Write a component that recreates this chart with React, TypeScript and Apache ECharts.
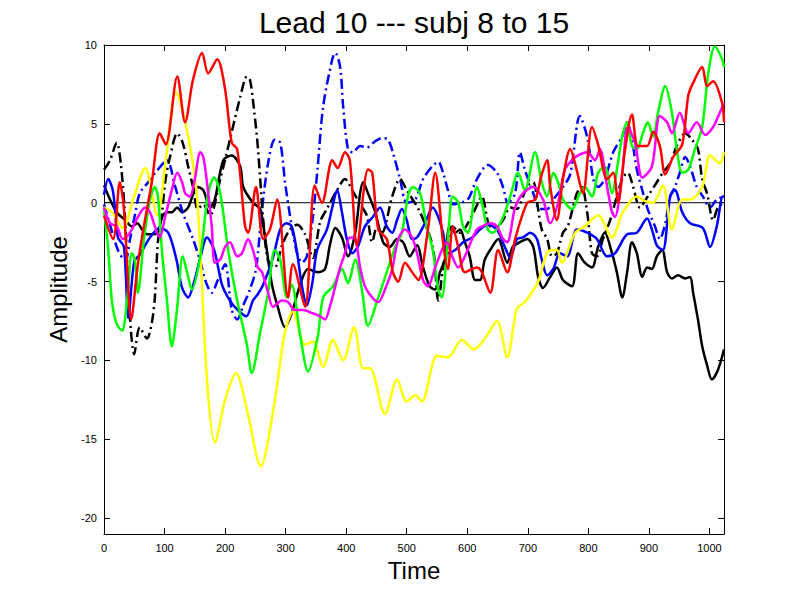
import React, { useEffect, useRef } from "react";
import * as echarts from "echarts";

const TITLE = "Lead 10 --- subj 8 to 15";
const X_NAME = "Time";
const Y_NAME = "Amplitude";
const X_TICKS = [0, 100, 200, 300, 400, 500, 600, 700, 800, 900, 1000];
const Y_TICKS = [-20, -15, -10, -5, 0, 5, 10];
const X_RANGE = [0, 1024];
const Y_RANGE = [-21, 10];
const ZERO_LINE: [number, number][] = [[0, 0], [1024, 0]];

const YELLOW: [number, number][] = [
  [0, -0.3], [13, -0.6], [31, -1.6], [48, 0.2], [68, 2.2], [88, -0.8], [102, 2.7], [119, 7.0], [139, 4.2], [154, 0.2],
  [170, -11.2], [183, -15.2], [200, -12.5], [218, -10.8], [236, -13.1], [259, -16.7], [279, -13.3], [299, -8.2], [312, -6.9],
  [332, -9.0], [345, -8.8], [362, -10.4], [378, -8.7], [395, -10.0], [413, -7.9], [428, -10.5], [439, -10.5], [464, -13.4],
  [484, -11.2], [500, -12.6], [514, -12.2], [525, -12.6], [550, -9.7], [568, -9.8], [591, -8.7], [611, -9.3], [631, -8.5],
  [649, -7.5], [666, -9.8], [682, -6.7], [695, -6.3], [717, -5.0], [733, -3.1], [748, -3.0], [756, -3.8], [778, -1.9],
  [794, -1.5], [816, -0.8], [839, -2.2], [857, -0.6], [880, 0.4], [894, 0.1], [907, 0.0], [923, 1.1], [938, -1.7],
  [955, 0.2], [968, 0.2], [988, 1.0], [1001, 3.0], [1017, 2.5], [1024, 3.2]
];

const RED: [number, number][] = [
  [0, -0.8], [15, -2.3], [26, 1.3], [33, -0.4], [45, -7.4], [55, -4.2], [64, -1.9], [79, 1.3], [92, 4.4], [102, 3.7],
  [121, 8.0], [134, 5.1], [147, 7.8], [162, 9.5], [172, 8.2], [187, 9.1], [200, 7.2], [211, 3.8], [220, 3.4], [233, -1.5],
  [238, -1.9], [251, 1.0], [263, -2.3], [274, -1.7], [286, 0.2], [304, -6.0], [312, -3.9], [332, -6.6], [348, 1.1],
  [360, 0.0], [377, 2.7], [386, 2.2], [398, 3.2], [406, 2.7], [418, -2.7], [436, 2.1], [443, 1.9], [453, -1.7],
  [467, -2.3], [477, -4.4], [486, -5.0], [497, -3.8], [509, -4.4], [519, -4.9], [535, -1.7], [547, 1.9], [560, -2.5],
  [568, -4.2], [576, -1.5], [585, -2.8], [596, -4.4], [616, -4.1], [624, -4.4], [638, -5.7], [651, -3.0], [666, -4.4],
  [679, -2.3], [699, 0.0], [712, 0.2], [723, 1.8], [732, 2.7], [737, 1.0], [748, -1.1], [758, 1.5], [770, 3.4],
  [778, 2.5], [791, 0.6], [806, 4.8], [816, 3.7], [831, 1.5], [841, 1.9], [849, 0.0], [860, 3.2], [872, 5.6], [882, 3.6],
  [897, 3.6], [907, 4.5], [918, 3.6], [927, 1.8], [940, 2.9], [955, 3.7], [965, 6.8], [973, 7.6], [988, 8.6], [996, 7.4],
  [1006, 7.7], [1021, 6.3], [1024, 5.1]
];

const GREEN: [number, number][] = [
  [0, -0.4], [7, -3.0], [13, -6.2], [21, -7.7], [30, -8.1], [38, -6.2], [46, -3.2], [51, -3.6], [56, -5.7], [66, -2.3],
  [76, 0.2], [84, 1.0], [89, 0.4], [96, -3.2], [104, -6.2], [112, -9.1], [121, -6.6], [130, -3.4], [139, -4.7], [145, -5.5],
  [159, -3.4], [172, 0.6], [182, 1.6], [192, 0.6], [205, -3.0], [220, -6.2], [236, -9.0], [244, -10.8], [258, -8.2],
  [271, -5.7], [282, -3.0], [291, -3.6], [302, -6.0], [310, -5.2], [324, -8.4], [337, -10.7], [353, -8.5], [362, -6.0],
  [378, -5.3], [393, -4.2], [403, -5.1], [415, -3.6], [426, -5.5], [436, -7.8], [453, -6.0], [467, -4.4], [481, -2.8],
  [492, -1.9], [502, 0.4], [510, 1.0], [522, 0.6], [533, -1.5], [543, -3.0], [552, -5.5], [558, -6.0], [568, -2.3],
  [576, 0.4], [585, 0.0], [593, -1.5], [601, -1.9], [616, 1.0], [624, 0.0], [634, -1.7], [642, -1.9], [657, -1.1],
  [671, 0.4], [684, 1.9], [695, 0.8], [712, 3.2], [723, 1.3], [732, 0.4], [742, 1.9], [750, 1.3], [758, 0.2], [773, -0.4],
  [786, 0.6], [794, 1.0], [806, 0.4], [816, 1.9], [827, 2.3], [839, 0.6], [847, 2.1], [856, 4.2], [864, 5.1], [872, 3.6],
  [880, 3.4], [890, 4.4], [898, 5.1], [907, 4.2], [915, 5.7], [927, 7.4], [938, 5.7], [946, 3.4], [955, 1.9], [965, 2.1],
  [976, 3.4], [988, 4.8], [998, 8.2], [1009, 9.9], [1021, 9.1], [1024, 8.6]
];

const BLUE: [number, number][] = [
  [0, 0.5], [7, 1.5], [15, 0.7], [23, -2.2], [33, -2.8], [40, -7.3], [50, -3.7], [59, -3.3], [76, -2.2], [92, -1.6],
  [106, -1.9], [119, -3.5], [129, -5.4], [139, -6.0], [149, -5.0], [159, -3.5], [170, -2.2], [182, -3.0], [195, -5.2],
  [208, -6.2], [221, -6.8], [235, -7.2], [246, -6.2], [254, -5.8], [264, -5.1], [279, -3.5], [291, -1.7], [301, -1.3],
  [310, -1.5], [319, -3.2], [327, -5.3], [335, -6.5], [344, -5.1], [352, -3.0], [368, -1.7], [377, -0.3], [385, 0.8],
  [393, -0.6], [401, -2.3], [410, -3.2], [419, -2.8], [431, -1.5], [444, -0.9], [456, -0.3], [467, -1.5], [476, -1.9],
  [484, -1.1], [492, -0.4], [500, -1.1], [509, -2.3], [517, -2.2], [530, -1.3], [543, -0.3], [552, -0.9], [560, -1.9],
  [568, -3.2], [580, -3.0], [593, -2.5], [608, -2.2], [621, -1.7], [634, -1.4], [649, -1.7], [662, -2.8], [671, -3.5],
  [682, -2.3], [692, -2.2], [704, -1.9], [715, -2.3], [723, -3.6], [732, -4.6], [742, -4.2], [753, -3.2], [765, -3.4],
  [781, -1.7], [798, -1.9], [814, -2.3], [831, -3.4], [844, -3.2], [864, -2.0], [880, -1.9], [897, -1.0], [905, -1.7],
  [913, -2.7], [923, -3.0], [935, 0.4], [943, 0.8], [955, -0.6], [968, -1.3], [989, -1.6], [1001, -2.8], [1012, -1.5],
  [1022, 0.4], [1024, 0.4]
];

const BLUE_DASHDOT: [number, number][] = [
  [0, -0.1], [10, -1.4], [23, -3.0], [35, -3.7], [43, -2.3], [51, -0.8], [59, 0.6], [73, 1.3], [89, 2.1], [104, 2.7],
  [117, 1.1], [130, -0.6], [147, -2.3], [159, -3.7], [168, -5.0], [178, -5.7], [188, -4.9], [200, -3.9], [211, -6.8],
  [220, -7.4], [230, -6.5], [241, -5.5], [251, -4.2], [261, -0.4], [271, 2.5], [282, 4.0], [291, 3.8], [299, 1.3],
  [310, -1.5], [319, -3.2], [327, -3.8], [335, -3.4], [345, -0.9], [353, 2.3], [362, 6.1], [377, 9.1], [382, 9.5],
  [390, 8.6], [395, 6.1], [403, 3.4], [411, 3.2], [423, 3.6], [434, 3.5], [448, 3.9], [459, 4.1], [469, 4.0], [477, 3.2],
  [489, 1.5], [500, 0.0], [514, 0.2], [527, 1.5], [542, 2.3], [552, 2.6], [560, 1.9], [568, 0.8], [576, -0.1], [588, 0.0],
  [601, 0.2], [616, 1.5], [634, 2.4], [649, 1.9], [659, 1.0], [667, 0.0], [679, 0.6], [687, 3.2], [695, 2.1], [709, 0.6],
  [720, -0.4], [732, -0.4], [742, 0.2], [758, 1.0], [770, 1.8], [786, 5.5], [799, 4.0], [808, 1.5], [816, 1.0], [827, 1.5],
  [841, 3.2], [856, 4.2], [864, 5.1], [872, 4.0], [880, 2.1], [889, 0.8], [898, -0.4], [910, -1.5], [918, -2.3],
  [927, -1.3], [935, 0.4], [943, 1.0], [951, 1.9], [960, 2.9], [968, 2.3], [979, 1.0], [989, 0.4], [1001, -0.3],
  [1012, 0.2], [1024, 0.4]
];

const BLACK: [number, number][] = [
  [0, 1.1], [10, 0.2], [21, -0.6], [35, -1.1], [46, -1.5], [55, -1.3], [63, -1.7], [71, -2.0], [81, -2.0], [89, -1.9],
  [96, -0.9], [104, -0.6], [112, -0.6], [121, -0.3], [129, -0.6], [139, -0.3], [154, 1.0], [164, 0.8], [175, -0.3],
  [183, 0.2], [197, 2.7], [211, 3.0], [225, 2.3], [230, 1.0], [246, 0.0], [258, -0.4], [266, -2.2], [277, -5.1],
  [287, -6.6], [299, -7.9], [310, -7.0], [324, -5.2], [337, -4.2], [353, -4.4], [365, -4.2], [373, -2.7], [382, -1.6],
  [393, -2.2], [403, -3.4], [415, -1.9], [423, 0.6], [428, 1.3], [436, 0.6], [448, -0.6], [461, -2.5], [472, -2.8],
  [484, -2.3], [494, -2.5], [505, -3.4], [517, -2.7], [527, -4.1], [538, -5.3], [547, -5.5], [555, -4.4], [563, -3.6],
  [571, -1.5], [580, -1.9], [588, -1.7], [596, -2.5], [604, -3.4], [613, -4.9], [621, -4.9], [629, -3.6], [641, -2.8],
  [651, -2.3], [666, -3.8], [675, -2.8], [687, -2.5], [699, -2.3], [709, -2.8], [717, -4.7], [725, -5.4], [737, -4.7],
  [748, -4.1], [758, -4.9], [773, -5.3], [783, -3.2], [794, -3.8], [806, -4.1], [816, -2.8], [827, -1.9], [839, -3.2],
  [847, -4.4], [856, -6.0], [864, -4.4], [872, -2.5], [880, -3.2], [889, -4.7], [897, -4.1], [905, -4.2], [913, -3.4],
  [922, -3.0], [930, -4.4], [938, -4.8], [948, -4.6], [960, -4.8], [968, -4.7], [973, -5.7], [981, -7.4], [988, -9.1],
  [996, -10.3], [1004, -11.2], [1014, -10.6], [1024, -9.3]
];

const BLACK_DASHDOT: [number, number][] = [
  [0, 2.1], [10, 2.7], [21, 3.8], [28, 2.4], [35, -1.1], [41, -6.2], [50, -9.6], [59, -7.9], [71, -8.6], [79, -7.6],
  [84, -6.0], [89, -2.5], [96, -0.6], [101, 1.3], [109, 2.9], [121, 4.4], [130, 3.8], [139, 2.3], [147, 1.0], [155, -0.4],
  [164, -0.1], [175, -0.8], [192, 1.5], [208, 4.0], [225, 6.7], [236, 8.0], [241, 7.8], [246, 6.5], [253, 4.0], [258, 1.5],
  [263, -1.1], [271, -3.7], [282, -4.1], [294, -2.7], [307, -1.7], [319, -1.4], [332, -2.0], [345, -3.5], [357, -1.2],
  [368, -0.4], [385, 0.8], [398, 1.5], [410, 0.8], [423, -0.1], [434, -0.8], [443, -2.5], [451, -1.5], [459, -1.9],
  [476, 0.4], [489, 1.5], [500, 0.8], [522, -0.6], [543, -2.8], [552, -6.2], [560, -4.1], [566, -2.8], [576, -1.5],
  [588, -1.9], [601, -1.3], [613, -0.4], [624, 0.4], [638, -1.5], [649, -1.5], [659, -1.1], [671, -0.3], [682, -0.4],
  [692, 0.4], [700, 1.1], [709, 1.3], [717, -0.4], [723, -1.7], [732, -2.3], [740, -3.4], [748, -3.2], [758, -1.9],
  [766, -1.5], [781, 0.6], [789, 1.0], [798, -0.6], [806, -3.2], [814, -3.4], [824, -2.3], [836, -1.1], [847, 0.4],
  [857, 1.6], [865, 1.9], [874, 1.0], [885, -0.3], [898, 0.4], [913, 1.3], [923, 1.9], [935, 2.5], [946, 3.6], [960, 4.4],
  [971, 4.0], [981, 3.4], [988, 1.5], [996, 0.6], [1006, -1.1], [1014, -0.3], [1024, 0.0]
];

const MAGENTA: [number, number][] = [
  [0, -0.3], [10, -1.3], [21, -1.5], [31, -2.3], [43, -1.9], [56, -0.9], [68, -0.3], [76, -0.6], [84, -1.5], [92, -2.2],
  [101, -0.9], [112, 0.8], [121, 1.9], [129, 1.3], [134, 0.6], [142, 0.4], [150, 1.5], [159, 3.2], [164, 2.9], [170, 1.3],
  [178, -1.5], [183, -3.8], [192, -3.6], [200, -2.8], [208, -2.5], [220, -3.4], [228, -3.2], [238, -2.3], [246, -3.0],
  [254, -4.1], [261, -4.4], [271, -5.7], [279, -6.6], [294, -6.2], [304, -6.3], [315, -6.8], [329, -6.8], [344, -7.0],
  [357, -7.2], [365, -7.4], [373, -6.6], [382, -5.3], [390, -4.1], [398, -3.2], [406, -2.2], [415, -2.3], [423, -4.1],
  [431, -5.3], [443, -6.0], [453, -6.3], [464, -5.5], [476, -4.2], [486, -2.3], [497, -1.7], [509, -2.2], [517, -3.2],
  [527, -4.9], [535, -5.3], [547, -4.1], [558, -3.0], [566, -2.5], [575, -3.4], [585, -4.1], [596, -3.4], [608, -2.3],
  [616, -1.7], [624, -1.5], [638, -1.3], [649, -1.5], [659, -2.3], [666, -2.5], [679, -0.3], [692, 0.6], [709, 1.0],
  [725, 0.2], [737, -1.3], [750, 0.0], [761, 2.1], [773, 2.7], [783, 3.0], [798, 3.2], [811, 2.7], [819, 3.4], [831, 1.0],
  [839, -0.6], [844, -0.9], [856, 1.9], [865, 4.8], [877, 3.8], [889, 1.6], [905, 2.3], [918, 5.5], [930, 5.1], [938, 4.4],
  [951, 5.7], [965, 4.4], [979, 5.1], [993, 4.3], [1006, 4.8], [1017, 5.7], [1024, 6.3]
];

const SERIES_DEFS: { name: string; data: [number, number][]; color: string; dash: boolean }[] = [
  { name: "s8", data: BLACK, color: "#000000", dash: false },
  { name: "s9", data: BLUE_DASHDOT, color: "#0000ff", dash: true },
  { name: "s10", data: BLACK_DASHDOT, color: "#000000", dash: true },
  { name: "s11", data: BLUE, color: "#0000ff", dash: false },
  { name: "s12", data: YELLOW, color: "#ffff00", dash: false },
  { name: "s13", data: GREEN, color: "#00ff00", dash: false },
  { name: "s14", data: MAGENTA, color: "#ff00ff", dash: false },
  { name: "s15", data: RED, color: "#ff0000", dash: false },
];

const FONT = "'Liberation Sans', Arial, Helvetica, sans-serif";

export default function App() {
  const ref = useRef<HTMLDivElement>(null);
  useEffect(() => {
    if (!ref.current) return;
    const chart = echarts.init(ref.current, undefined, { renderer: "svg" });
    const axisLine = { show: true, onZero: false, lineStyle: { color: "#000", width: 1 } };
    const tickStyle = { color: "#000", width: 1 };
    const fmt = (v: number) => String(v);
    const option: any = {
      animation: false,
      backgroundColor: "#ffffff",
      grid: { left: 104, top: 45, width: 620, height: 489, containLabel: false },
      graphic: [
        {
          type: "text",
          x: 414,
          y: 22,
          style: {
            text: TITLE,
            fontSize: 30,
            fontFamily: FONT,
            fill: "#000",
            align: "center",
            verticalAlign: "middle",
          },
        },
      ],
      xAxis: [
        {
          type: "value",
          min: X_RANGE[0],
          max: X_RANGE[1],
          position: "bottom",
          axisLine,
          axisTick: { show: true, inside: true, length: 6, customValues: X_TICKS, lineStyle: tickStyle },
          axisLabel: { show: true, customValues: X_TICKS, formatter: fmt, color: "#000", fontSize: 11, fontFamily: FONT, margin: 8 },
          splitLine: { show: false },
          name: X_NAME,
          nameLocation: "middle",
          nameGap: 24,
          nameTextStyle: { fontSize: 24, color: "#000", fontFamily: FONT, verticalAlign: "top" },
        },
        {
          type: "value",
          min: X_RANGE[0],
          max: X_RANGE[1],
          position: "top",
          axisLine,
          axisTick: { show: true, inside: true, length: 6, customValues: X_TICKS, lineStyle: tickStyle },
          axisLabel: { show: false },
          splitLine: { show: false },
        },
      ],
      yAxis: [
        {
          type: "value",
          min: Y_RANGE[0],
          max: Y_RANGE[1],
          position: "left",
          axisLine,
          axisTick: { show: true, inside: true, length: 6, customValues: Y_TICKS, lineStyle: tickStyle },
          axisLabel: { show: true, customValues: Y_TICKS, formatter: fmt, color: "#000", fontSize: 11, fontFamily: FONT, margin: 7 },
          splitLine: { show: false },
          name: Y_NAME,
          nameLocation: "middle",
          nameGap: 31,
          nameRotate: 90,
          nameTextStyle: { fontSize: 24, color: "#000", fontFamily: FONT },
        },
        {
          type: "value",
          min: Y_RANGE[0],
          max: Y_RANGE[1],
          position: "right",
          axisLine,
          axisTick: { show: true, inside: true, length: 6, customValues: Y_TICKS, lineStyle: tickStyle },
          axisLabel: { show: false },
          splitLine: { show: false },
        },
      ],
      series: [
        {
          name: "zero",
          type: "line",
          data: ZERO_LINE,
          showSymbol: false,
          silent: true,
          lineStyle: { color: "#000", width: 1 },
          z: 1,
        },
        ...SERIES_DEFS.map((s, i) => ({
          name: s.name,
          type: "line",
          data: s.data,
          showSymbol: false,
          smooth: 0.3,
          clip: true,
          z: 2 + i,
          lineStyle: {
            color: s.color,
            width: 2.5,
            type: s.dash ? [10, 4, 2, 4] : "solid",
          },
        })),
      ],
    };
    chart.setOption(option);
    return () => chart.dispose();
  }, []);
  return (
    <div
      ref={ref}
      style={{ position: "fixed", left: 0, top: 0, width: 800, height: 601, background: "#fff" }}
    />
  );
}
